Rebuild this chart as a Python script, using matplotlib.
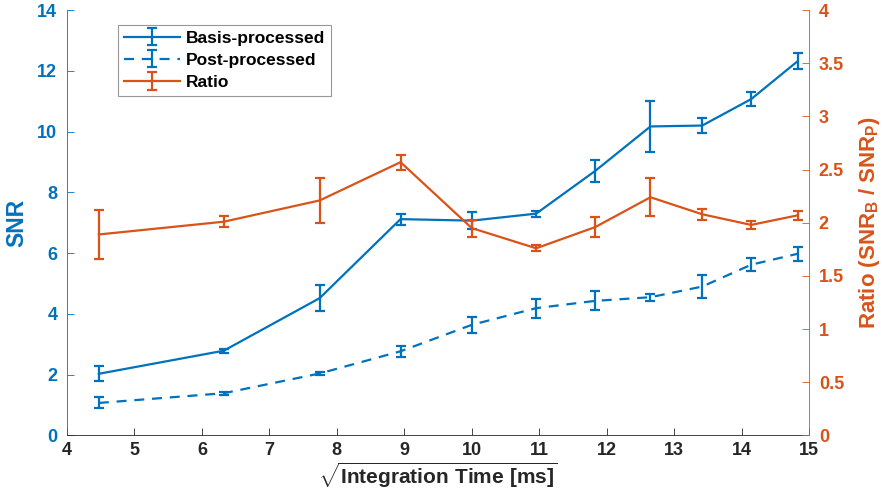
import numpy as np
import matplotlib
matplotlib.use("Agg")
import matplotlib.pyplot as plt

plt.rcParams['font.family'] = ['Liberation Sans', 'DejaVu Sans']
plt.rcParams['font.weight'] = 'bold'
plt.rcParams['mathtext.fontset'] = 'custom'
plt.rcParams['mathtext.rm'] = 'Liberation Sans:bold'
plt.rcParams['mathtext.bf'] = 'Liberation Sans:bold'
plt.rcParams['mathtext.it'] = 'Liberation Sans:bold'

# sqrt of integration time (20 ... 220 ms)
sqrt_time = np.sqrt([20, 40, 60, 80, 100, 120, 140, 160, 180, 200, 220])

snr_basis = [2.03, 2.79, 4.52, 7.12, 7.07, 7.30, 8.71, 10.17, 10.20, 11.07, 12.32]
err_basis = [0.24, 0.07, 0.42, 0.18, 0.28, 0.10, 0.36, 0.83, 0.26, 0.24, 0.26]

snr_post = [1.07, 1.39, 2.04, 2.77, 3.64, 4.19, 4.43, 4.55, 4.90, 5.62, 5.98]
err_post = [0.18, 0.05, 0.04, 0.19, 0.26, 0.31, 0.31, 0.12, 0.37, 0.21, 0.23]

ratio = [1.89, 2.01, 2.21, 2.57, 1.95, 1.76, 1.96, 2.24, 2.08, 1.98, 2.07]
err_ratio = [0.23, 0.05, 0.21, 0.07, 0.08, 0.03, 0.09, 0.18, 0.05, 0.04, 0.04]

blue = '#0072BD'
orange = '#D95319'
dark = '#262626'

fig = plt.figure(figsize=(8.84, 5.04), dpi=100)
ax = fig.add_axes([0.0758, 0.136, 0.8394, 0.844])
ax2 = ax.twinx()

eb_kw = dict(linewidth=1.6, elinewidth=1.6, capsize=3.5, capthick=1.6)
h1 = ax.errorbar(sqrt_time, snr_basis, yerr=err_basis, color=blue,
                 label='Basis-processed', **eb_kw)
h2 = ax.errorbar(sqrt_time, snr_post, yerr=err_post, color=blue,
                 linestyle=(0, (4.5, 3.5)), label='Post-processed', **eb_kw)
h3 = ax2.errorbar(sqrt_time, ratio, yerr=err_ratio, color=orange,
                  label='Ratio', **eb_kw)

ax.set_xlim(4, 15)
ax.set_ylim(0, 14)
ax2.set_ylim(0, 4)
ax.set_xticks(np.arange(4, 16, 1))
ax.set_yticks(np.arange(0, 15, 2))
ax2.set_yticks(np.arange(0, 4.01, 0.5))
ax2.set_yticklabels(['0', '0.5', '1', '1.5', '2', '2.5', '3', '3.5', '4'])

for a in (ax, ax2):
    a.spines['top'].set_visible(False)
ax.spines['right'].set_visible(False)
ax.spines['left'].set_color(blue)
ax.spines['bottom'].set_color(dark)
ax2.spines['left'].set_visible(False)
ax2.spines['bottom'].set_visible(False)
ax2.spines['right'].set_color(orange)
for a in (ax, ax2):
    for s in a.spines.values():
        s.set_linewidth(0.6)

ax.tick_params(axis='y', direction='in', colors=blue, labelsize=13, length=5, width=0.6, pad=7)
ax.tick_params(axis='x', direction='in', colors=dark, labelsize=13, length=5, width=0.6, pad=5)
ax2.tick_params(axis='y', direction='in', colors=orange, labelsize=13, length=5, width=0.6, pad=7)

ax.set_ylabel('SNR', color=blue, fontsize=16.5, fontweight='bold', labelpad=6)
ax2.set_ylabel(r'Ratio (SNR$_\mathbf{B}$ / SNR$_\mathbf{P}$)', color=orange,
               fontsize=16, fontweight='bold', labelpad=9)
ax.set_xlabel(r'$\sqrt{\mathbf{Integration\ Time\ [ms]}}$', color=dark,
              fontsize=15, labelpad=1)

leg = ax.legend(handles=[h1, h2, h3], loc='upper left', bbox_to_anchor=(0.0687, 0.966),
                borderaxespad=0, fontsize=12.5, frameon=True, fancybox=False, borderpad=0.35,
                handlelength=3.2, handletextpad=0.35, labelspacing=0.4)
leg.get_frame().set_edgecolor('#7f7f7f')
leg.get_frame().set_linewidth(0.8)

fig.savefig('out.png', dpi=100)
